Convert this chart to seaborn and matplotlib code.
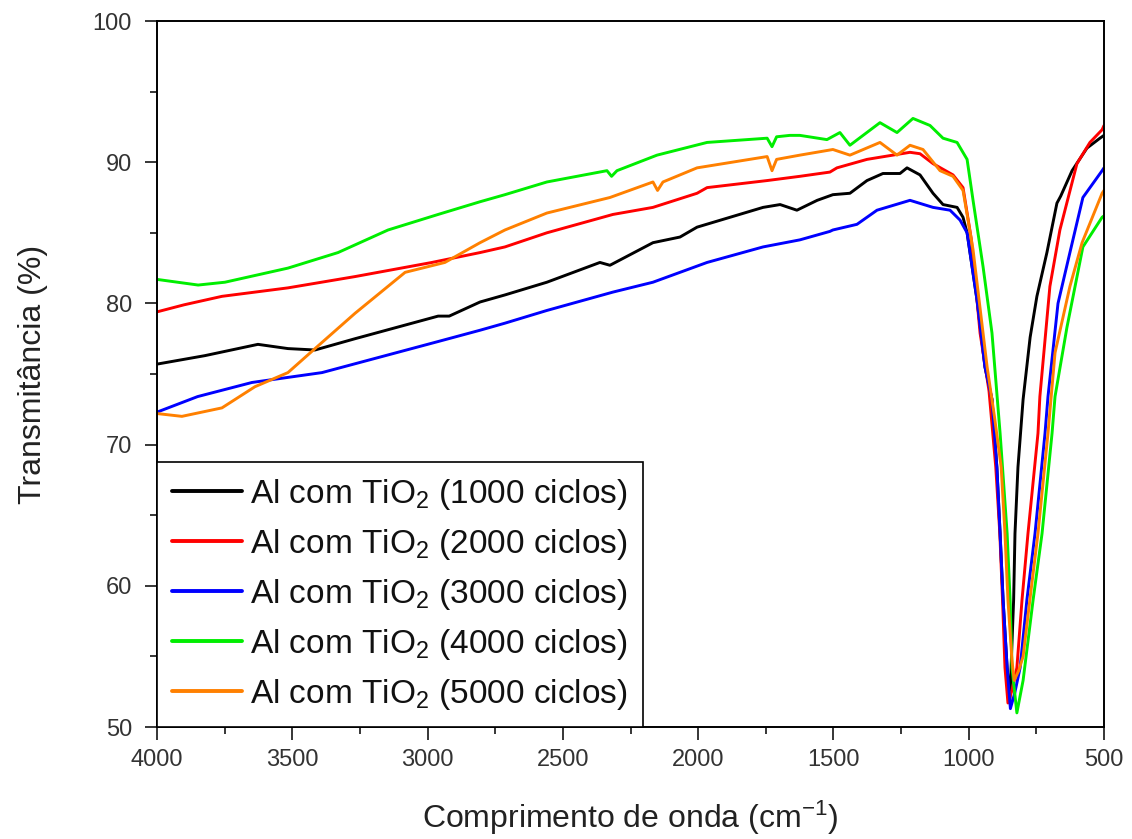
import matplotlib
matplotlib.use("Agg")
import matplotlib.pyplot as plt
from matplotlib.ticker import MultipleLocator
import seaborn as sns
import pandas as pd

# ---- data (wavenumber cm-1, transmittance %) ----
wn_1000 = [4000, 3823, 3627, 3516, 3416, 3268, 2961, 2920, 2806, 2714, 2559, 2363, 2326, 2167, 2067,
           2004, 1760, 1697, 1635, 1560, 1502, 1439, 1376, 1317, 1254, 1228, 1180, 1132, 1095, 1043,
           1021, 1006, 969, 940, 914, 896, 884, 873, 858, 848, 838, 834, 829, 818, 799, 773, 748, 711,
           674, 660, 618, 563, 515, 500]
t_1000 = [75.7, 76.3, 77.1, 76.8, 76.7, 77.5, 79.1, 79.1, 80.1, 80.6, 81.5, 82.9, 82.7, 84.3, 84.7,
          85.4, 86.8, 87.0, 86.6, 87.3, 87.7, 87.8, 88.7, 89.2, 89.2, 89.6, 89.1, 87.8, 87.0, 86.8,
          86.1, 85.0, 80.2, 75.5, 73.2, 68.4, 63.7, 59.0, 54.2, 51.8, 57.0, 59.0, 63.7, 68.4, 73.2,
          77.6, 80.5, 83.6, 87.1, 87.6, 89.4, 91.0, 91.7, 91.9]

wn_2000 = [4000, 3900, 3760, 3516, 3268, 2984, 2806, 2714, 2559, 2315, 2167, 2004, 1967, 1745, 1624,
           1513, 1487, 1376, 1217, 1180, 1132, 1058, 1021, 990, 958, 925, 900, 885, 875, 866, 855,
           840, 822, 803, 781, 744, 737, 700, 663, 600, 552, 507, 500]
t_2000 = [79.4, 79.9, 80.5, 81.1, 81.9, 82.9, 83.6, 84.0, 85.0, 86.3, 86.8, 87.8, 88.2, 88.7, 89.0,
          89.3, 89.6, 90.2, 90.7, 90.6, 89.9, 89.1, 88.2, 84.5, 77.9, 73.8, 68.4, 63.7, 59.0, 54.2, 51.7,
          52.6, 54.2, 59.0, 63.7, 70.8, 73.4, 81.2, 85.2, 89.9, 91.4, 92.3, 92.6]

wn_3000 = [4000, 3850, 3649, 3390, 2961, 2806, 2714, 2559, 2315, 2167, 1967, 1760, 1624, 1513, 1502,
           1413, 1339, 1217, 1132, 1069, 1032, 1006, 969, 940, 914, 896, 884, 873, 858, 846,
           830, 810, 785, 755, 718, 707, 670, 626, 578, 507, 500]
t_3000 = [72.3, 73.4, 74.4, 75.1, 77.3, 78.1, 78.6, 79.5, 80.8, 81.5, 82.9, 84.0, 84.5, 85.1, 85.2,
          85.6, 86.6, 87.3, 86.8, 86.6, 85.9, 85.0, 80.2, 75.5, 73.2, 68.4, 63.7, 59.0, 54.2, 51.3,
          52.4, 54.2, 59.0, 63.7, 70.8, 73.4, 80.0, 83.6, 87.5, 89.4, 89.6]

wn_4000 = [4000, 3848, 3749, 3516, 3331, 3146, 2961, 2806, 2714, 2559, 2337, 2320, 2300, 2152, 1967,
           1745, 1727, 1710, 1661, 1624, 1524, 1476, 1439, 1328, 1265, 1206, 1143, 1095, 1043, 1006,
           984, 947, 914, 884, 870, 858, 847, 840, 822, 799, 762, 729, 692, 681, 637, 578, 507, 500]
t_4000 = [81.7, 81.3, 81.5, 82.5, 83.6, 85.2, 86.3, 87.2, 87.7, 88.6, 89.4, 89.0, 89.4, 90.5, 91.4,
          91.7, 91.1, 91.8, 91.9, 91.9, 91.6, 92.1, 91.2, 92.8, 92.1, 93.1, 92.6, 91.7, 91.4, 90.2,
          87.3, 82.6, 77.9, 70.8, 67.0, 63.7, 59.0, 54.2, 51.0, 53.3, 59.0, 63.7, 70.8, 73.4, 78.3,
          84.0, 86.1, 86.2]

wn_5000 = [4000, 3908, 3760, 3638, 3516, 3416, 3268, 3083, 2936, 2806, 2714, 2559, 2326, 2167, 2150,
           2130, 2004, 1745, 1727, 1710, 1624, 1502, 1439, 1328, 1265, 1217, 1169, 1106, 1058, 1021,
           984, 932, 905, 880, 866, 855, 840, 832, 815, 799, 774, 744, 707, 681, 626, 581, 507, 500]
t_5000 = [72.2, 72.0, 72.6, 74.1, 75.1, 76.8, 79.3, 82.2, 82.9, 84.3, 85.2, 86.4, 87.5, 88.6, 88.0,
          88.6, 89.6, 90.4, 89.4, 90.2, 90.5, 90.9, 90.5, 91.4, 90.5, 91.2, 90.9, 89.4, 89.0, 88.0,
          83.8, 75.5, 72.0, 68.4, 63.7, 59.0, 54.7, 53.3, 54.0, 55.0, 59.0, 63.7, 70.8, 76.5, 81.2,
          84.3, 87.8, 88.0]

labels = ["Al com TiO$_\\mathregular{2}$ (1000 ciclos)",
          "Al com TiO$_\\mathregular{2}$ (2000 ciclos)",
          "Al com TiO$_\\mathregular{2}$ (3000 ciclos)",
          "Al com TiO$_\\mathregular{2}$ (4000 ciclos)",
          "Al com TiO$_\\mathregular{2}$ (5000 ciclos)"]
colors = ["#000000", "#FF0000", "#0000FF", "#00EE00", "#FF8000"]

x_ticks = [4000, 3500, 3000, 2500, 2000, 1500, 1000, 500]
y_ticks = [50, 60, 70, 80, 90, 100]

series = [(wn_1000, t_1000), (wn_2000, t_2000), (wn_3000, t_3000), (wn_4000, t_4000), (wn_5000, t_5000)]
frames = []
for lab, (w, t) in zip(labels, series):
    frames.append(pd.DataFrame({"wn": w, "T": t, "serie": lab}))
df = pd.concat(frames, ignore_index=True)

sns.set_theme(style="ticks")
plt.rcParams["font.family"] = ["Liberation Sans", "DejaVu Sans"]
plt.rcParams["mathtext.fontset"] = "custom"
plt.rcParams["mathtext.rm"] = "Liberation Sans"
plt.rcParams["mathtext.it"] = "Liberation Sans:italic"

fig = plt.figure(figsize=(11.32, 8.39), dpi=100)
ax = fig.add_axes([157 / 1132, 1 - 727 / 839, (1104 - 157) / 1132, (727 - 21) / 839])

sns.lineplot(data=df, x="wn", y="T", hue="serie", palette=dict(zip(labels, colors)),
             hue_order=labels, sort=False, estimator=None, linewidth=2.1, ax=ax, legend=True)

ax.set_xlim(4000, 500)
ax.set_ylim(50, 100)
ax.set_xticks(x_ticks)
ax.set_yticks(y_ticks)
ax.xaxis.set_minor_locator(MultipleLocator(250))
ax.yaxis.set_minor_locator(MultipleLocator(5))
ax.tick_params(which="major", direction="out", length=9, width=1.1, labelsize=17,
               labelcolor="#333333", color="black")
ax.tick_params(which="minor", direction="out", length=5, width=1.1, color="black")
ax.tick_params(axis="x", pad=7)
ax.tick_params(axis="y", pad=9)
for s in ax.spines.values():
    s.set_linewidth(1.4)
    s.set_color("black")

ax.set_xlabel("Comprimento de onda (cm$^{\\mathregular{-1}}$)", fontsize=23, color="#222222", labelpad=20)
ax.set_ylabel("Transmitância (%)", fontsize=23, color="#222222", labelpad=32)

handles, labs = ax.get_legend_handles_labels()
for h in handles:
    h.set_linewidth(2.8)
leg = ax.legend(handles, labs, loc="lower left", bbox_to_anchor=(0, 0), borderaxespad=0,
                fontsize=24, frameon=True, fancybox=False, handlelength=2.1, handletextpad=0.25,
                labelspacing=0.45, borderpad=0.45)
leg.get_frame().set_edgecolor("black")
leg.get_frame().set_linewidth(1.2)
leg.get_frame().set_alpha(1)
for t in leg.get_texts():
    t.set_color("#111111")

fig.savefig("out.png", dpi=100)
